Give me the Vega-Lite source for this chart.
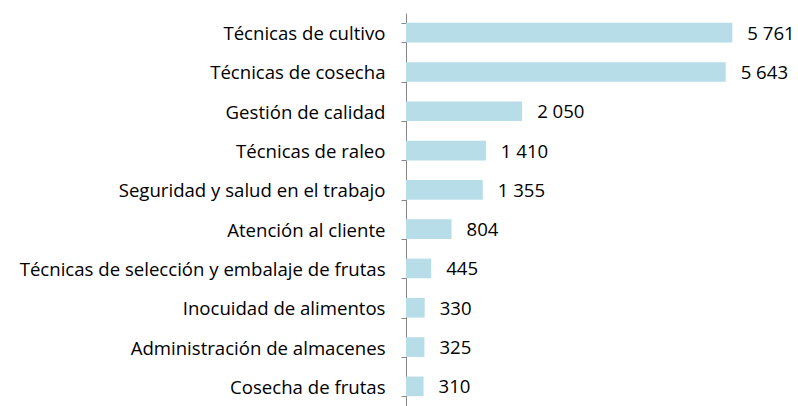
{
  "$schema": "https://vega.github.io/schema/vega-lite/v6.json",
  "autosize": "none",
  "padding": {"left": 406, "top": 13, "right": 0, "bottom": 0},
  "width": 392,
  "height": 393,
  "background": "white",
  "config": {
    "view": {"stroke": null},
    "locale": {"number": {"decimal": ",", "thousands": " ", "grouping": [3], "currency": ["", ""]}}
  },
  "data": {"values": [
    {"tema": "Técnicas de cultivo", "valor": 5761},
    {"tema": "Técnicas de cosecha", "valor": 5643},
    {"tema": "Gestión de calidad", "valor": 2050},
    {"tema": "Técnicas de raleo", "valor": 1410},
    {"tema": "Seguridad y salud en el trabajo", "valor": 1355},
    {"tema": "Atención al cliente", "valor": 804},
    {"tema": "Técnicas de selección y embalaje de frutas", "valor": 445},
    {"tema": "Inocuidad de alimentos", "valor": 330},
    {"tema": "Administración de almacenes", "valor": 325},
    {"tema": "Cosecha de frutas", "valor": 310}
  ]},
  "encoding": {
    "y": {"field": "tema", "type": "nominal", "sort": null,
      "scale": {"paddingInner": 0.5, "paddingOuter": 0.25},
      "axis": {"title": null, "domainColor": "#868686", "tickColor": "#868686", "tickBand": "extent", "tickSize": 5,
        "labelFont": "Open Sans", "labelFontSize": 18.6, "labelColor": "#000000", "labelPadding": 16, "labelLimit": 500, "labelOffset": 1}},
    "x": {"field": "valor", "type": "quantitative", "scale": {"domain": [0, 6920]}, "axis": null}
  },
  "layer": [
    {"mark": {"type": "bar", "color": "#b7dde8"}},
    {"mark": {"type": "text", "align": "left", "dx": 15, "dy": 1, "font": "Open Sans", "fontSize": 18.6, "color": "#000000"},
     "encoding": {"text": {"field": "valor", "type": "quantitative", "format": ",d"}}}
  ]
}
